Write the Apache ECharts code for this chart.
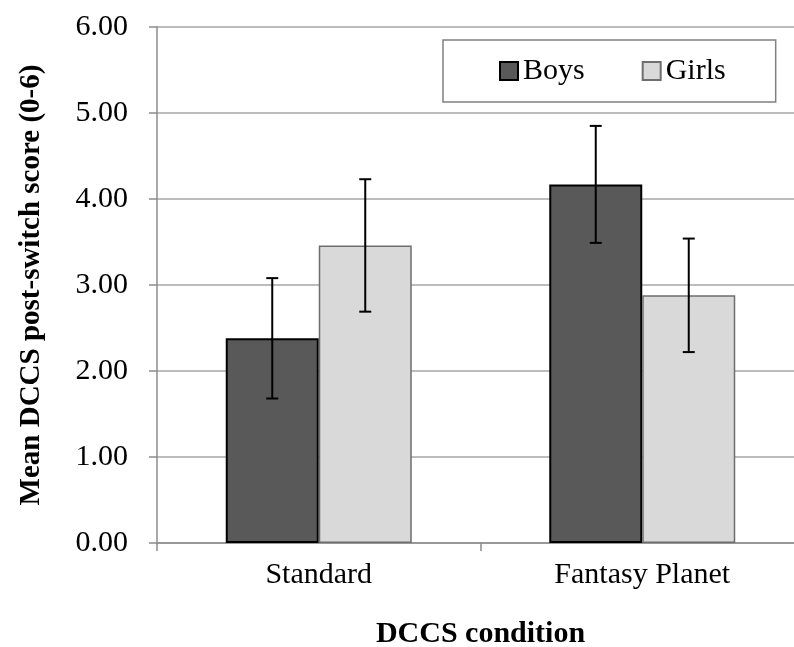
<!DOCTYPE html>
<html>
<head>
<meta charset="utf-8">
<script src="https://cdn.jsdelivr.net/npm/echarts@6/dist/echarts.min.js"></script>
<style>
html,body{margin:0;padding:0;background:#fff;}
#c{width:794px;height:647px;}
</style>
</head>
<body>
<div id="c"></div>
<script>
const categories = ['Standard', 'Fantasy Planet'];
const boysMean = [2.38, 4.17];
const boysLow = [1.68, 3.49];
const boysHigh = [3.08, 4.85];
const girlsMean = [3.46, 2.88];
const girlsLow = [2.69, 2.22];
const girlsHigh = [4.23, 3.54];
const yTicks = [0, 1, 2, 3, 4, 5, 6];

const FONT = '"Liberation Serif", "Times New Roman", serif';
const chart = echarts.init(document.getElementById('c'), null, {renderer: 'canvas'});

function errSeries(name, low, high, offset) {
  return {
    type: 'custom',
    name: name + ' err',
    silent: true,
    z: 10,
    data: categories.map((c, i) => [i, low[i], high[i]]),
    renderItem: function (params, api) {
      const i = api.value(0);
      const pLow = api.coord([i, api.value(1)]);
      const pHigh = api.coord([i, api.value(2)]);
      const bw = api.size([1, 0])[0];
      const x = pLow[0] + offset * bw;
      const cap = 6;
      const st = {stroke: '#000', lineWidth: 2};
      return {
        type: 'group',
        children: [
          {type: 'line', shape: {x1: x, y1: pLow[1], x2: x, y2: pHigh[1]}, style: st},
          {type: 'line', shape: {x1: x - cap, y1: pLow[1], x2: x + cap, y2: pLow[1]}, style: st},
          {type: 'line', shape: {x1: x - cap, y1: pHigh[1], x2: x + cap, y2: pHigh[1]}, style: st}
        ]
      };
    }
  };
}

const BW = 93;
const CW = 323.5;

chart.setOption({
  animation: false,
  backgroundColor: '#fff',
  textStyle: {fontFamily: FONT},
  grid: {left: 157, top: 27, width: 647, height: 516, containLabel: false, outerBoundsMode: 'none'},
  legend: {
    data: ['Boys', 'Girls'],
    left: 443,
    top: 40,
    orient: 'horizontal',
    itemWidth: 18,
    itemHeight: 18,
    itemGap: 57,
    icon: 'rect',
    padding: [16, 50, 16, 56],
    borderColor: '#808080',
    borderWidth: 1.5,
    borderRadius: 0,
    textStyle: {fontFamily: FONT, fontSize: 30, color: '#000'}
  },
  xAxis: {
    type: 'category',
    data: categories,
    name: 'DCCS condition',
    nameLocation: 'middle',
    nameGap: 76,
    nameTextStyle: {fontFamily: FONT, fontSize: 30, fontWeight: 'bold', color: '#000'},
    axisLine: {show: true, lineStyle: {color: '#8c8c8c', width: 1.5}},
    axisTick: {show: true, alignWithLabel: false, length: 8, lineStyle: {color: '#8c8c8c', width: 1.5}},
    axisLabel: {fontFamily: FONT, fontSize: 30, color: '#000', margin: 17},
    splitLine: {show: false}
  },
  yAxis: {
    type: 'value',
    min: 0,
    max: 6,
    interval: 1,
    name: 'Mean DCCS post-switch score (0-6)',
    nameLocation: 'middle',
    nameGap: 111,
    nameRotate: 90,
    nameTextStyle: {fontFamily: FONT, fontSize: 29, fontWeight: 'bold', color: '#000'},
    axisLine: {show: true, lineStyle: {color: '#8c8c8c', width: 1.5}},
    axisTick: {show: true, inside: false, length: 8, lineStyle: {color: '#8c8c8c', width: 1.5}},
    axisLabel: {
      fontFamily: FONT, fontSize: 30, color: '#000', margin: 29,
      formatter: v => yTicks.includes(v) ? v.toFixed(2) : ''
    },
    splitLine: {show: true, lineStyle: {color: '#a6a6a6', width: 1.5}}
  },
  series: [
    {
      name: 'Boys', type: 'bar', data: boysMean, barWidth: BW, barGap: '0%',
      itemStyle: {color: '#595959', borderColor: '#000', borderWidth: 2}
    },
    {
      name: 'Girls', type: 'bar', data: girlsMean, barWidth: BW, barGap: '0%',
      itemStyle: {color: '#d9d9d9', borderColor: '#6e6e6e', borderWidth: 1.5}
    },
    errSeries('Boys', boysLow, boysHigh, -BW / 2 / CW),
    errSeries('Girls', girlsLow, girlsHigh, BW / 2 / CW)
  ]
});
</script>
</body>
</html>
